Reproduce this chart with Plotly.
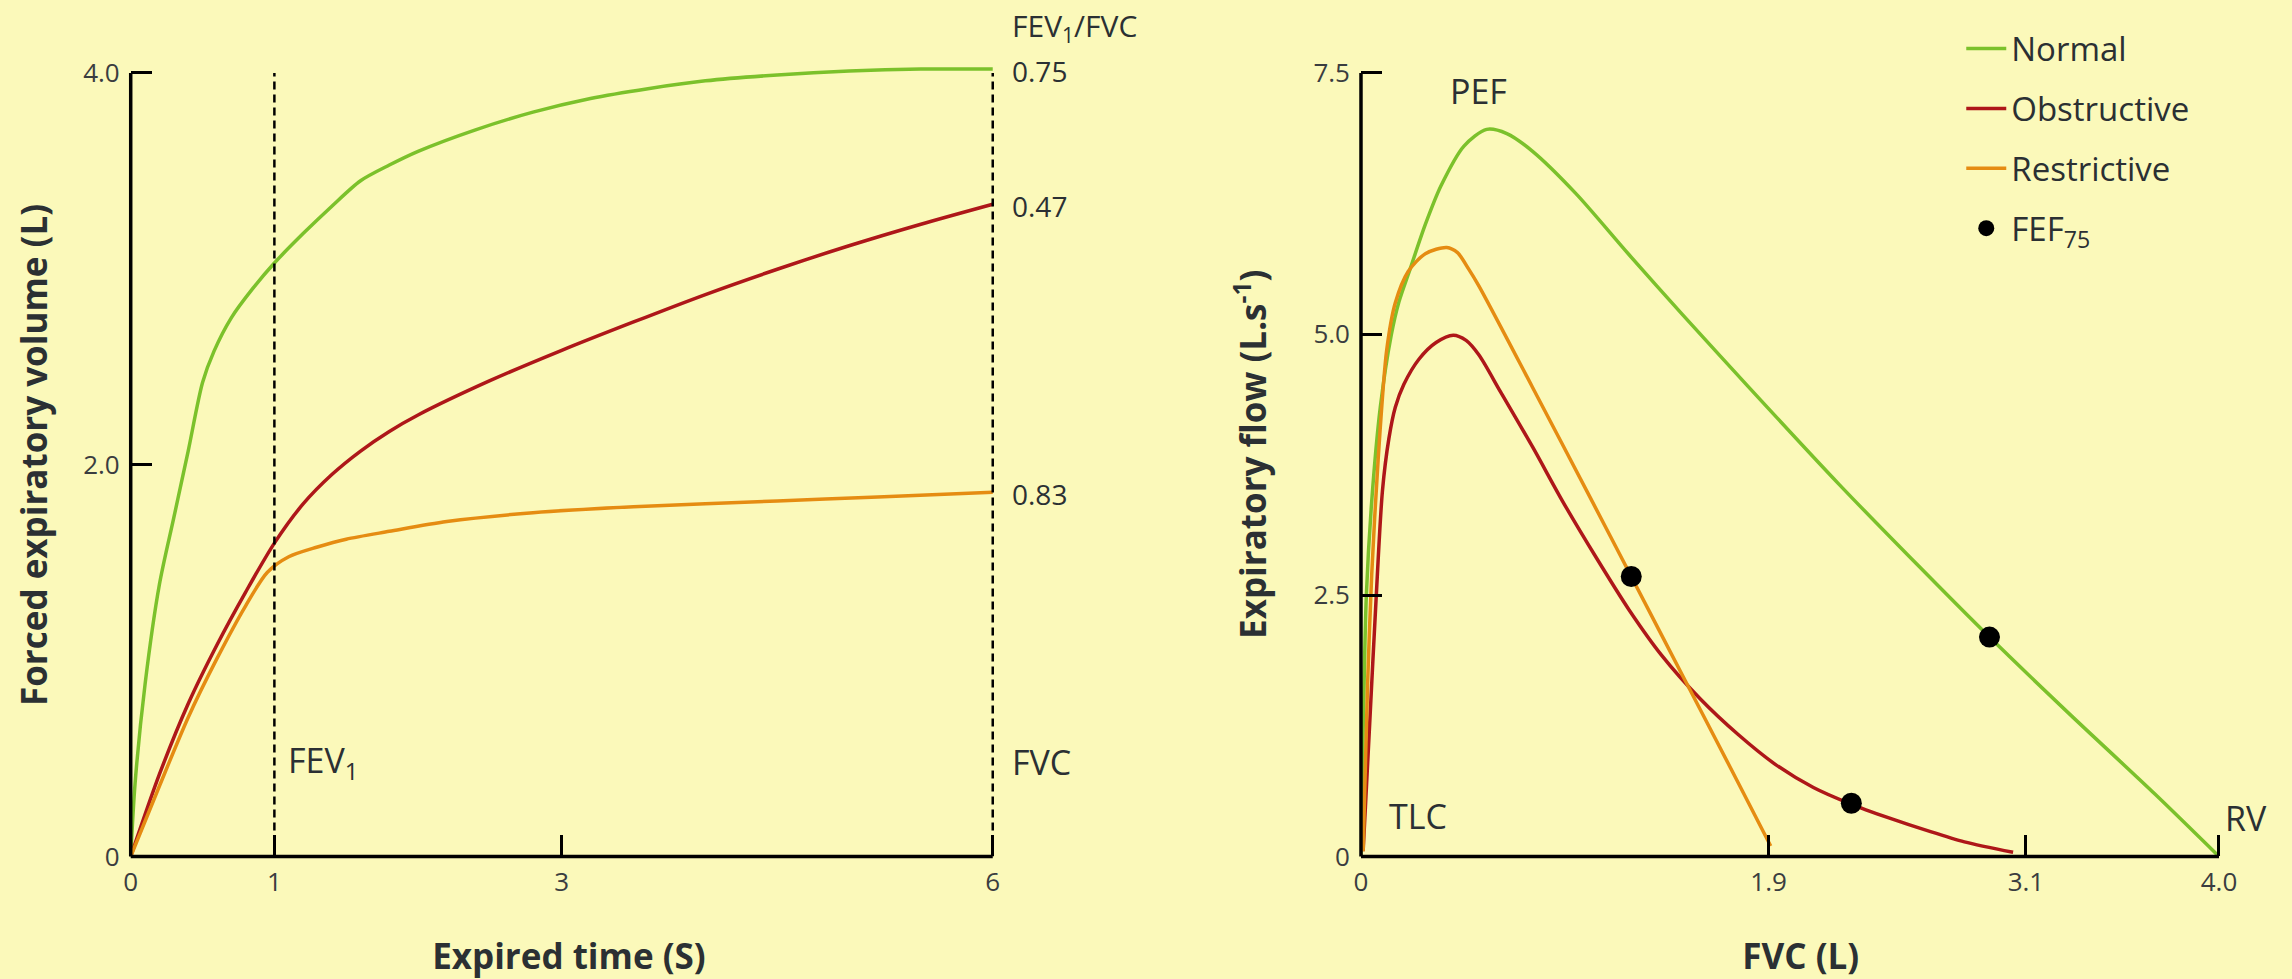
import plotly.graph_objects as go

# ---------------- data ----------------
# Left: volume-time spirogram
t_normal = [0, 0.03, 0.1, 0.2, 0.3, 0.4, 0.5, 0.58, 0.7, 0.85, 1.0, 1.2, 1.4, 1.6, 1.8, 2.0, 2.4, 2.8, 3.2, 3.6, 4.0, 4.5, 5.0, 5.5, 6.0]
v_normal = [0, 0.37, 0.88, 1.39, 1.73, 2.07, 2.42, 2.58, 2.75, 2.90, 3.03, 3.18, 3.32, 3.45, 3.53, 3.60, 3.71, 3.80, 3.87, 3.92, 3.96, 3.99, 4.01, 4.02, 4.02]

t_obstr = [0, 0.2, 0.4, 0.6, 0.8, 1.0, 1.2, 1.4, 1.6, 1.8, 2.0, 2.5, 3.0, 3.5, 4.0, 4.5, 5.0, 5.5, 6.0]
v_obstr = [0, 0.42, 0.78, 1.08, 1.35, 1.60, 1.80, 1.95, 2.07, 2.17, 2.254, 2.429, 2.584, 2.729, 2.869, 2.998, 3.118, 3.228, 3.33]

t_restr = [0, 0.2, 0.4, 0.6, 0.8, 0.95, 1.1, 1.3, 1.5, 1.8, 2.2, 2.8, 3.5, 4.5, 5.2, 6.0]
v_restr = [0, 0.36, 0.71, 1.01, 1.28, 1.45, 1.53, 1.58, 1.62, 1.66, 1.71, 1.755, 1.785, 1.815, 1.835, 1.86]

ratio_labels = ["0.75", "0.47", "0.83"]

# Right: flow-volume loop
fv_normal_x = [0, 0.01, 0.025, 0.05, 0.09, 0.141, 0.177, 0.23, 0.30, 0.373, 0.48, 0.586, 0.68, 0.80, 1.0, 1.25, 1.5, 1.8, 2.23, 2.6, 2.93, 3.3, 3.7, 4.0]
fv_normal_y = [0, 1.2, 2.5, 3.4, 4.3, 4.99, 5.31, 5.63, 6.05, 6.42, 6.80, 6.96, 6.92, 6.75, 6.35, 5.76, 5.185, 4.51, 3.56, 2.78, 2.10, 1.37, 0.60, 0.0]

fv_obstr_x = [0.01, 0.04, 0.07, 0.10, 0.13, 0.16, 0.20, 0.27, 0.35, 0.43, 0.49, 0.55, 0.65, 0.80, 0.94, 1.1, 1.25, 1.4, 1.581, 1.757, 1.933, 2.109, 2.286, 2.461, 2.637, 2.813, 3.04]
fv_obstr_y = [0.05, 1.25, 2.45, 3.5, 4.0, 4.3, 4.52, 4.76, 4.92, 4.99, 4.94, 4.80, 4.45, 3.92, 3.40, 2.85, 2.36, 1.93, 1.51, 1.17, 0.88, 0.66, 0.50, 0.37, 0.25, 0.14, 0.04]

fv_restr_x = [0.01, 0.03, 0.05, 0.08, 0.12, 0.16, 0.22, 0.30, 0.40, 0.45, 0.50, 0.55, 0.80, 1.07, 1.26, 1.51, 1.75, 1.91]
fv_restr_y = [0.05, 1.6, 2.7, 3.8, 4.85, 5.3, 5.6, 5.77, 5.83, 5.78, 5.63, 5.46, 4.49, 3.43, 2.68, 1.69, 0.74, 0.1]

fef75_x = [1.26, 2.286, 2.93]
fef75_y = [2.68, 0.51, 2.10]

left_xticks = [0, 1, 3, 6]
left_xtext = ["0", "1", "3", "6"]
left_yticks = [0, 2.0, 4.0]
left_ytext = ["0", "2.0", "4.0"]
right_xticks = [0, 1.9, 3.1, 4.0]
right_xtext = ["0", "1.9", "3.1", "4.0"]
right_yticks = [0, 2.5, 5.0, 7.5]
right_ytext = ["0", "2.5", "5.0", "7.5"]

# ---------------- style ----------------
W, H = 2292, 979
BG = "#FBF9BA"
GREEN = "#7BC12B"
RED = "#AE1719"
ORANGE = "#E58C12"
TXT = "#2b3033"
TICKTXT = "#3a3d40"
FONT = "Open Sans"
LW = 3.5

L_XR, L_YR = [0, 6.1], [0, 4.1]
R_XR, R_YR = [0, 4.1], [0, 7.7]
L_XD, L_YD = [0.05703, 0.43940], [0.12513, 0.94545]
R_XD, R_YD = [0.59380, 0.97751], [0.12513, 0.94678]


def to_paper(v, rng, dom):
    return dom[0] + (v - rng[0]) / (rng[1] - rng[0]) * (dom[1] - dom[0])


fig = go.Figure()


def curve(x, y, color, xa, ya, name=None, group=None, legend=False):
    return go.Scatter(x=x, y=y, mode="lines", name=name, legendgroup=group, showlegend=legend,
                      line=dict(color=color, width=LW, shape="spline", smoothing=0.8),
                      xaxis=xa, yaxis=ya, hoverinfo="skip")


fig.add_trace(curve(t_normal, v_normal, GREEN, "x", "y"))
fig.add_trace(curve(t_obstr, v_obstr, RED, "x", "y"))
fig.add_trace(curve(t_restr, v_restr, ORANGE, "x", "y"))

fig.add_trace(curve(fv_normal_x, fv_normal_y, GREEN, "x2", "y2", "Normal", "a", True))
fig.add_trace(curve(fv_obstr_x, fv_obstr_y, RED, "x2", "y2", "Obstructive", "b", True))
fig.add_trace(curve(fv_restr_x, fv_restr_y, ORANGE, "x2", "y2", "Restrictive", "c", True))
fig.add_trace(go.Scatter(x=fef75_x, y=fef75_y, name="FEF<sub>75</sub>", legendgroup="d", mode="markers",
                         marker=dict(color="black", size=21), xaxis="x2", yaxis="y2", hoverinfo="skip"))

tickfont = dict(family=FONT, size=26, color=TICKTXT)
axis_common = dict(showgrid=False, zeroline=False, showline=False, ticks="inside", ticklen=21,
                   tickwidth=3, tickcolor="black", tickfont=tickfont, tickmode="array", fixedrange=True,
                   automargin=False)
title_font = dict(family=FONT, size=35, color=TXT)

fig.update_layout(
    width=W, height=H, autosize=False,
    margin=dict(l=0, r=0, t=0, b=0, pad=0),
    paper_bgcolor=BG, plot_bgcolor=BG,
    font=dict(family=FONT, color=TXT),
    xaxis=dict(domain=L_XD, range=L_XR, anchor="y", tickvals=left_xticks, ticktext=left_xtext,
               ticklabelstandoff=8,
               title=dict(text="<b>Expired time (S)</b>", font=title_font, standoff=57), **axis_common),
    yaxis=dict(domain=L_YD, range=L_YR, anchor="x", tickvals=left_yticks, ticktext=left_ytext,
               ticklabelstandoff=10,
               title=dict(text="<b>Forced expiratory volume (L)</b>", font=title_font, standoff=24), **axis_common),
    xaxis2=dict(domain=R_XD, range=R_XR, anchor="y2", tickvals=right_xticks, ticktext=right_xtext,
                ticklabelstandoff=8,
                title=dict(text="<b>FVC (L)</b>", font=title_font, standoff=57), **axis_common),
    yaxis2=dict(domain=R_YD, range=R_YR, anchor="x2", tickvals=right_yticks, ticktext=right_ytext,
                ticklabelstandoff=10,
                title=dict(text="<b>Expiratory flow (L.s<sup>-1</sup>)</b>", font=title_font, standoff=36), **axis_common),
    legend=dict(x=0.8557, y=0.979, xanchor="left", yanchor="top", bgcolor="rgba(0,0,0,0)",
                font=dict(family=FONT, size=33, color=TXT), tracegroupgap=14, itemwidth=40),
    showlegend=True,
)

# axis lines (drawn from origin to last tick, like the reference)
shapes = []
for xr, yr, xd, yd, xmax, ymax in [(L_XR, L_YR, L_XD, L_YD, left_xticks[-1], left_yticks[-1]),
                                    (R_XR, R_YR, R_XD, R_YD, right_xticks[-1], right_yticks[-1])]:
    x0p = to_paper(0, xr, xd)
    y0p = to_paper(0, yr, yd)
    shapes.append(dict(type="line", xref="paper", yref="paper", x0=x0p, x1=to_paper(xmax, xr, xd),
                       y0=y0p, y1=y0p, line=dict(color="black", width=3.5)))
    shapes.append(dict(type="line", xref="paper", yref="paper", x0=x0p, x1=x0p,
                       y0=y0p, y1=to_paper(ymax, yr, yd), line=dict(color="black", width=3.5)))
# dashed reference lines at 1 s and at FVC
for tx in [1, 6]:
    shapes.append(dict(type="line", xref="x", yref="y", x0=tx, x1=tx, y0=0, y1=left_yticks[-1],
                       line=dict(color="black", width=2.5, dash="8px,5px")))
fig.update_layout(shapes=shapes)

lab_font = dict(family=FONT, size=34, color=TXT)
num_font = dict(family=FONT, size=28, color=TXT)
anns = []
# ratio labels at the end of each volume-time curve
for lab, yv in zip(ratio_labels, [v_normal[-1], v_obstr[-1], v_restr[-1]]):
    anns.append(dict(x=6, y=yv, xref="x", yref="y", text=lab, showarrow=False, xanchor="left",
                     yanchor="middle", xshift=17, yshift=-2, font=num_font))
anns.append(dict(x=6, y=4.1, xref="x", yref="y", text="FEV<sub>1</sub>/FVC", showarrow=False,
                 xanchor="left", yanchor="middle", xshift=17, yshift=26, font=dict(family=FONT, size=30, color=TXT)))
anns.append(dict(x=1, y=0.48, xref="x", yref="y", text="FEV<sub>1</sub>", showarrow=False,
                 xanchor="left", yanchor="middle", xshift=12, font=lab_font))
anns.append(dict(x=6, y=0.48, xref="x", yref="y", text="FVC", showarrow=False,
                 xanchor="left", yanchor="middle", xshift=17, font=lab_font))
# flow-volume labels
pef_i = fv_normal_y.index(max(fv_normal_y))
anns.append(dict(x=fv_normal_x[pef_i], y=fv_normal_y[pef_i], xref="x2", yref="y2",
                 text="PEF", showarrow=False, yanchor="middle", xshift=-8, yshift=38, font=lab_font))
anns.append(dict(x=0, y=0.39, xref="x2", yref="y2", text="TLC", showarrow=False, xanchor="left",
                 yanchor="middle", xshift=26, font=lab_font))
anns.append(dict(x=4.0, y=0.37, xref="x2", yref="y2", text="RV", showarrow=False, xanchor="left",
                 yanchor="middle", xshift=4, font=lab_font))
fig.update_layout(annotations=anns)

fig.write_html("out.html", config={"displayModeBar": False},
               post_script="document.body.style.margin='0px';document.body.style.background='" + BG + "';")
